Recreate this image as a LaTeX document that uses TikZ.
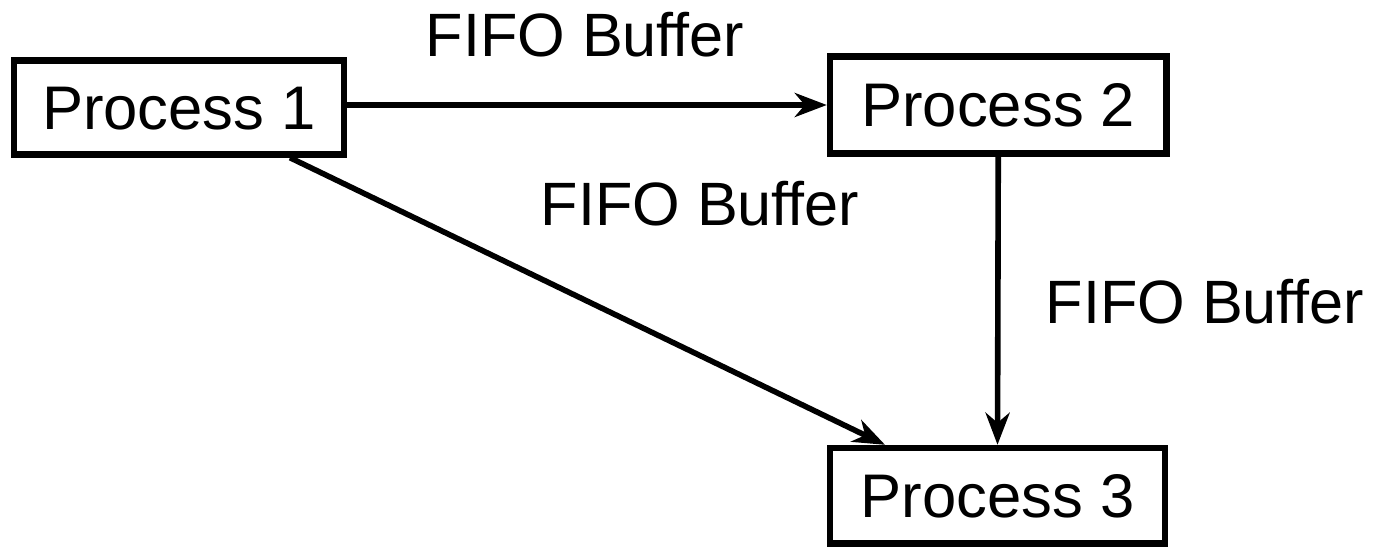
\documentclass[tikz,border=0pt]{standalone}
\usepackage{fontspec}
\setmainfont{Liberation Sans}
\usetikzlibrary{arrows.meta,calc}
\begin{document}
\begin{tikzpicture}[x=0.5pt,y=-0.5pt,
  procbox/.style={draw,line width=3.2pt,inner sep=0pt,font=\fontsize{30.8}{36}\selectfont,text height=21.5pt,text depth=0pt},
  conn/.style={line width=2.8pt,-{Stealth[length=16pt,width=12pt,inset=5pt]}},
  lbl/.style={inner sep=0pt,anchor=base,font=\fontsize{30.6}{36}\selectfont}]
\useasboundingbox (0,0) rectangle (1379,551);
\node[procbox,minimum width=164.75pt,minimum height=47pt] (P1) at (179,107.5) {Process 1};
\node[procbox,minimum width=168.25pt,minimum height=48.5pt] (P2) at (998.25,105) {Process 2};
\node[procbox,minimum width=167.5pt,minimum height=47.75pt] (P3) at (997.5,495.75) {Process 3};
\draw[conn] (P1.east |- P2.west) -- (P2.west);
\draw[conn] (P2.south) -- (P3.north);
\coordinate (d1) at ([xshift=55.5pt]P1.south);
\coordinate (d2) at ([xshift=-56.25pt]P3.north);
\draw[conn] (d1) -- (d2);
\node[lbl] (L1) at (585,57) {FIFO Buffer};
\node[lbl] (L2) at (700,225) {FIFO Buffer};
\node[lbl] (L3) at (1205,323) {FIFO Buffer};
\end{tikzpicture}
\end{document}
